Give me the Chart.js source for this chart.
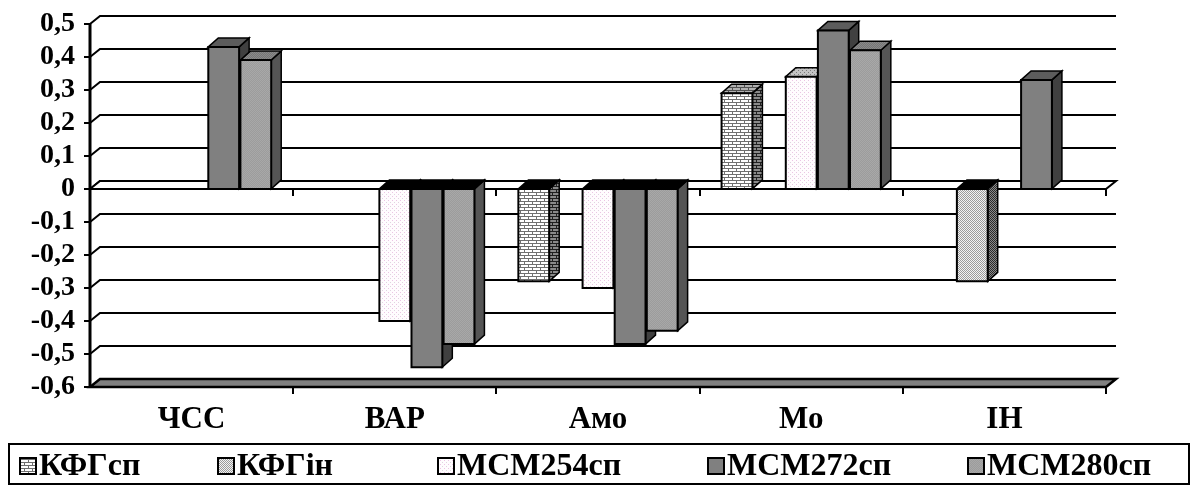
<!DOCTYPE html>
<html>
<head>
<meta charset="utf-8">
<script src="https://cdn.jsdelivr.net/npm/chart.js@4.4.1/dist/chart.umd.min.js"></script>
<style>
  html, body { margin: 0; padding: 0; background: #fff; overflow: hidden; }
  canvas { display: block; }
</style>
</head>
<body>
<canvas id="c" width="1197" height="485"></canvas>
<script>
// Categories, series and value axis settings
const categories = ['ЧСС', 'ВАР', 'Амо', 'Мо', 'ІН'];
const seriesNames = ['КФГсп', 'КФГін', 'МСМ254сп', 'МСМ272сп', 'МСМ280сп'];
const kfgSp  = [null, null, -0.28, 0.29, null];
const kfgIn  = [null, null, null, null, -0.28];
const msm254 = [null, -0.40, -0.30, 0.34, null];
const msm272 = [0.43, -0.54, -0.47, 0.48, 0.33];
const msm280 = [0.39, -0.47, -0.43, 0.42, null];
const yMin = -0.6, yMax = 0.5, yStep = 0.1;

const canvas = document.getElementById('c');
const ctx = canvas.getContext('2d');
const SERIF = '"Liberation Serif", "Times New Roman", serif';

// Small repeating textures for the hatched fills
function makeTile(w, h, bg, pixels) {
  const c = document.createElement('canvas');
  c.width = w; c.height = h;
  const g = c.getContext('2d');
  g.fillStyle = bg; g.fillRect(0, 0, w, h);
  pixels.forEach(([x, y, col]) => { g.fillStyle = col; g.fillRect(x, y, 1, 1); });
  return ctx.createPattern(c, 'repeat');
}
function brick(bg, line) {
  const px = [];
  for (let x = 0; x < 8; x++) { px.push([x, 0, line]); px.push([x, 3, line]); }
  px.push([0, 1, line], [0, 2, line], [4, 4, line], [4, 5, line]);
  return makeTile(8, 6, bg, px);
}
function checker(bg, dot) {
  const px = [];
  for (let y = 0; y < 4; y++) for (let x = 0; x < 4; x++) if ((x + y) % 2 === 0) px.push([x, y, dot]);
  return makeTile(4, 4, bg, px);
}
function sparse(bg, dot, dot2) {
  return makeTile(4, 4, bg, [[0, 0, dot], [2, 2, dot2 || dot]]);
}

const styles = [
  { front: brick('#ffffff', '#707070'), side: brick('#8a8a8a', '#202020'), top: brick('#b0b0b0', '#505050') },
  { front: checker('#f2f2f2', '#9a9a9a'), side: checker('#8a8a8a', '#2a2a2a'), top: checker('#c0c0c0', '#606060') },
  { front: sparse('#fffcfe', '#ecc4e4', '#e0d4e0'), side: sparse('#9a9a9a', '#606060'), top: sparse('#c4c4c4', '#7a7a7a') },
  { front: '#808080', side: '#404040', top: '#5c5c5c' },
  { front: checker('#9c9c9c', '#a8a8a8'), side: '#555555', top: checker('#767676', '#8a8a8a') }
];
const seriesData = [kfgSp, kfgIn, msm254, msm272, msm280];

// Depth offsets of the back wall and of the columns
const WALL_DX = 10, WALL_DY = 8;
const BAR_DX = 10, BAR_DY = 9;

function poly(c, pts, fill, lw) {
  c.beginPath();
  c.moveTo(pts[0][0], pts[0][1]);
  for (let i = 1; i < pts.length; i++) c.lineTo(pts[i][0], pts[i][1]);
  c.closePath();
  c.fillStyle = fill; c.fill();
  c.lineWidth = lw; c.strokeStyle = '#000'; c.stroke();
}

const fmt = v => {
  if (Math.abs(v) < 1e-9) return '0';
  return (Math.round(v * 10) / 10).toFixed(1).replace('.', ',');
};

const wallAndColumns = {
  id: 'wallAndColumns',
  beforeDatasetsDraw(chart) {
    const c = chart.ctx;
    const left = Math.round(chart.chartArea.left), right = Math.round(chart.chartArea.right);
    const ys = chart.scales.y;
    const py = v => Math.round(ys.getPixelForValue(v));
    c.save();
    c.lineCap = 'butt';

    // back-wall gridlines with the slanted side-wall edge
    c.strokeStyle = '#000'; c.lineWidth = 2;
    const steps = Math.round((yMax - yMin) / yStep);
    for (let i = 0; i < steps; i++) {
      const y = py(yMax - i * yStep);
      c.beginPath();
      c.moveTo(left, y);
      c.lineTo(left + WALL_DX, y - WALL_DY);
      c.lineTo(right + WALL_DX, y - WALL_DY);
      c.stroke();
    }

    // floor slab at the axis minimum
    const yf = py(yMin);
    poly(c, [[left, yf], [left + WALL_DX, yf - WALL_DY], [right + WALL_DX, yf - WALL_DY], [right, yf]], '#808080', 2.5);

    // thin plane at zero carrying the category axis
    const y0 = py(0);
    poly(c, [[left, y0], [left + WALL_DX, y0 - WALL_DY], [right + WALL_DX, y0 - WALL_DY], [right, y0]], '#ffffff', 2);

    // category boundary ticks under the zero line and under the floor
    const n = categories.length;
    const cw = (right - left) / n;
    c.lineWidth = 2;
    for (let k = 1; k <= n; k++) {
      const x = Math.round(left + k * cw);
      c.beginPath();
      c.moveTo(x, y0); c.lineTo(x, y0 + 7);
      c.moveTo(x, yf); c.lineTo(x, yf + 7);
      c.stroke();
    }

    // value axis with outward ticks
    c.lineWidth = 3;
    c.beginPath();
    c.moveTo(left, py(yMax));
    c.lineTo(left, yf + 1);
    c.stroke();
    c.lineWidth = 2;
    ys.ticks.forEach(t => {
      const y = py(t.value);
      c.beginPath(); c.moveTo(left - 6, y); c.lineTo(left, y); c.stroke();
    });

    // columns, drawn series by series so later ones overlap earlier sides
    chart.data.datasets.forEach((ds, di) => {
      const meta = chart.getDatasetMeta(di);
      const st = styles[di];
      meta.data.forEach((el, i) => {
        if (ds.data[i] === null || ds.data[i] === undefined) return;
        const p = el.getProps(['x', 'y', 'base', 'width'], true);
        const x0 = p.x - p.width / 2, x1 = p.x + p.width / 2;
        const neg = p.y > p.base;
        const yt = Math.min(p.y, p.base), yb = Math.max(p.y, p.base);
        poly(c, [[x1, yt], [x1 + BAR_DX, yt - BAR_DY], [x1 + BAR_DX, yb - BAR_DY], [x1, yb]], st.side, 1.5);
        poly(c, [[x0, yt], [x0 + BAR_DX, yt - BAR_DY], [x1 + BAR_DX, yt - BAR_DY], [x1, yt]], neg ? '#000' : st.top, 1.5);
        poly(c, [[x0, yt], [x1, yt], [x1, yb], [x0, yb]], st.front, 2);
      });
    });
    c.restore();
    return false;
  },
  afterDraw(chart) {
    // legend box along the bottom edge
    const c = chart.ctx;
    c.save();
    c.lineWidth = 2; c.strokeStyle = '#000';
    c.strokeRect(9, 444, 1180, 40);
    const markerX = [20, 218, 438, 708, 968];
    c.font = 'bold 32px ' + SERIF;
    c.textBaseline = 'alphabetic';
    seriesNames.forEach((name, i) => {
      const mx = markerX[i];
      c.fillStyle = styles[i].front;
      c.fillRect(mx, 458, 16, 16);
      c.lineWidth = 2; c.strokeStyle = '#000';
      c.strokeRect(mx, 458, 16, 16);
      c.fillStyle = '#000';
      c.fillText(name, mx + 19, 475);
    });
    c.restore();
  }
};

new Chart(ctx, {
  type: 'bar',
  data: {
    labels: categories,
    datasets: seriesNames.map((name, i) => ({
      label: name,
      data: seriesData[i],
      backgroundColor: '#808080',
      categoryPercentage: 0.79,
      barPercentage: 0.96
    }))
  },
  options: {
    responsive: false,
    animation: false,
    events: [],
    layout: { padding: { top: 21, right: 91, left: 0, bottom: 0 } },
    plugins: { legend: { display: false }, tooltip: { enabled: false } },
    scales: {
      x: {
        grid: { display: false },
        border: { display: false },
        ticks: {
          color: '#000',
          padding: 6,
          maxRotation: 0,
          autoSkip: false,
          font: { family: SERIF, weight: 'bold', size: 31 }
        },
        afterFit(s) { s.height = 98; }
      },
      y: {
        min: yMin, max: yMax,
        grid: { display: false },
        border: { display: false },
        ticks: {
          stepSize: yStep,
          autoSkip: false,
          color: '#000',
          padding: 7,
          callback: v => fmt(v),
          font: { family: SERIF, weight: 'bold', size: 28 }
        },
        afterFit(s) { s.width = 90; }
      }
    }
  },
  plugins: [wallAndColumns]
});
</script>
</body>
</html>
